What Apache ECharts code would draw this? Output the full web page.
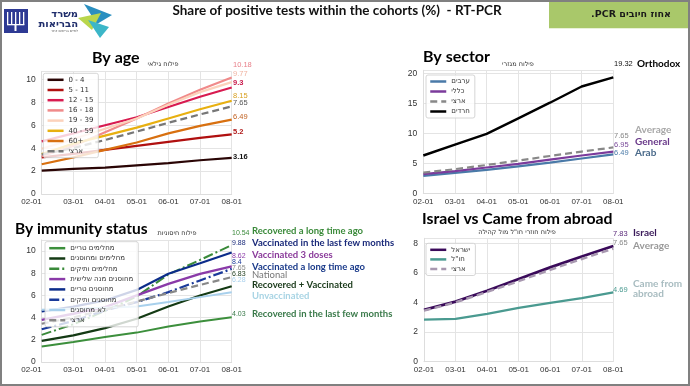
<!DOCTYPE html>
<html><head><meta charset="utf-8">
<script src="https://cdn.jsdelivr.net/npm/echarts@6/dist/echarts.min.js"></script>
<style>html,body{margin:0;padding:0;background:#fff}#c{width:690px;height:386px}</style>
</head><body><div id="c"></div>
<script>
// ---------- data ----------
const months = ['02-01','03-01','04-01','05-01','06-01','07-01','08-01'];
const national = [3.45,4.02,4.72,5.45,6.22,6.95,7.65];

const ageNames = ['0 - 4','5 - 11','12 - 15','16 - 18','19 - 39','40 - 59','60+','ארצי'];
const age_0_4   = [2.05,2.2,2.3,2.5,2.7,2.95,3.16];
const age_5_11  = [3.2,3.5,3.85,4.2,4.55,4.9,5.2];
const age_12_15 = [4.6,5.3,6.0,6.7,7.6,8.5,9.3];
const age_16_18 = [3.3,4.2,5.4,6.6,7.9,9.1,10.18];
const age_19_39 = [3.95,4.8,5.7,6.6,7.8,8.9,9.77];
const age_40_59 = [3.5,4.4,5.1,5.8,6.6,7.4,8.15];
const age_60p   = [2.6,3.2,3.85,4.5,5.3,5.95,6.49];

const sectorNames = ['ערבים','כללי','ארצי','חרדים'];
const sectorArab     = [2.9,3.4,3.9,4.5,5.1,5.8,6.49];
const sectorGeneral  = [3.2,3.7,4.3,4.9,5.6,6.3,6.95];
const sectorOrthodox = [6.3,8.1,9.9,12.5,15.1,17.8,19.32];
const sectorTags = ['Orthodox','Average','General','Arab'];

const immNames = ['מחלימים טריים','מחלימים ומחוסנים','מחלימים ותיקים','מחוסנים מנה שלישית','מחוסנים טריים','מחוסנים ותיקים','לא מחוסנים','ארצי'];
const immRecRecent = [1.4,1.8,2.25,2.65,3.2,3.65,4.03];
const immRecVacc   = [1.9,2.4,3.05,3.9,5.0,6.0,6.83];
const immRecLong   = [2.45,3.4,4.6,5.9,7.9,9.2,10.54];
const immVac3      = [3.8,4.35,4.95,6.0,7.05,7.95,8.62];
const immVacRecent = [4.55,5.0,5.55,6.5,7.95,8.9,9.88];
const immVacLong   = [2.95,3.7,4.65,5.4,6.3,7.35,8.4];
const immUnvacc    = [4.7,4.8,4.9,5.0,5.4,5.85,6.28];
const immTags = ['Recovered a long time ago','Vaccinated in the last few months','Vaccinated 3 doses','Vaccinated a long time ago','National','Recovered + Vaccinated','Unvaccinated','Recovered in the last few months'];

const abrNames = ['ישראל','חו"ל','ארצי'];
const abrIsrael = [3.5,4.07,4.8,5.6,6.38,7.12,7.83];
const abrAbroad = [2.85,2.9,3.24,3.64,3.98,4.3,4.69];
const abrTags = ['Israel','Average','Came from','abroad'];

const titleText = 'Share of positive tests within the cohorts (%)  - RT-PCR';
const headings = ['By age','By sector','By immunity status','Israel vs Came from abroad'];
const subtitles = ['פילוח גילאי','פילוח מגזרי','פילוח חיסוניות','פילוח חוזרי חו"ל מול קהילה'];
const boxText = '.PCR אחוז חיובים';

// ---------- build ----------
const last = a => a[a.length-1];
const DASH = [7,4], DASHDOT = [10,3,2,3];
const grids = [
  {left:41.7, top:71.5, width:190, height:122.5},
  {left:423.3, top:70.3, width:190, height:123},
  {left:41.7, top:240, width:190, height:122},
  {left:424, top:238.3, width:189.3, height:123.4}
];
const yCfg = [{max:10.7,interval:2},{max:20.5,interval:5},{max:11,interval:2},{max:8.35,interval:2}];
const gridLine = '#e4e4e4';
const xAxes = grids.map((g,i)=>({
  type:'category', gridIndex:i, data:months, boundaryGap:false,
  axisTick:{show:false}, axisLine:{lineStyle:{color:'#ddd'}},
  splitLine:{show:true,lineStyle:{color:gridLine,width:1}},
  axisLabel:{fontSize:8,color:'#333',margin:4,fontFamily:'Liberation Sans',
    alignMinLabel: (i===0||i===2)?'right':'center'}
}));
const yAxes = grids.map((g,i)=>({
  type:'value', gridIndex:i, min:0, max:yCfg[i].max, interval:yCfg[i].interval,
  axisTick:{show:false}, axisLine:{show:true,lineStyle:{color:'#ddd'}},
  splitLine:{lineStyle:{color:gridLine,width:1}},
  axisLabel:{fontSize:8.5,color:'#333',margin:6,showMaxLabel:false,fontFamily:'Liberation Sans'}
}));

const series = [];
function add(name, data, color, gi, width, type, z){
  series.push({type:'line', name:name, data:data, xAxisIndex:gi, yAxisIndex:gi,
    symbol:'none', smooth:false, z:z||2,
    lineStyle:{color:color, width:width||2, type:type||'solid'}, itemStyle:{color:color}});
}
// chart 1 — age
add(ageNames[0], age_0_4, '#2a0505', 0, 2.2);
add(ageNames[1], age_5_11, '#b01010', 0, 2.2);
add(ageNames[2], age_12_15, '#d81b50', 0, 2.2);
add(ageNames[3], age_16_18, '#f08a8a', 0, 2.2);
add(ageNames[4], age_19_39, '#fcd2bc', 0, 2.2);
add(ageNames[5], age_40_59, '#e8b010', 0, 2.2);
add(ageNames[6], age_60p, '#d87010', 0, 2.2);
add(ageNames[7]+'#1', national, '#777', 0, 2.2, DASH);
// chart 2 — sector
add(sectorNames[0]+'#2', sectorArab, '#4a7aa8', 1, 2.2);
add(sectorNames[1]+'#2', sectorGeneral, '#7b3b9b', 1, 2.2);
add(sectorNames[2]+'#2', national, '#888', 1, 2.2, DASH);
add(sectorNames[3]+'#2', sectorOrthodox, '#000', 1, 2.4);
// chart 3 — immunity
add(immNames[0]+'#3', immRecRecent, '#3c8f3c', 2, 2);
add(immNames[1]+'#3', immRecVacc, '#143a14', 2, 2.2);
add(immNames[2]+'#3', immRecLong, '#3a8a3a', 2, 2, DASHDOT);
add(immNames[3]+'#3', immVac3, '#8a3aa8', 2, 2.4);
add(immNames[4]+'#3', immVacRecent, '#0c2c8a', 2, 2.2);
add(immNames[5]+'#3', immVacLong, '#1a3a9a', 2, 2.2, DASHDOT);
add(immNames[6]+'#3', immUnvacc, '#a8d0ec', 2, 2);
add(immNames[7]+'#3', national, '#888', 2, 2.2, DASH);
// chart 4 — Israel vs abroad
add(abrNames[0]+'#4', abrIsrael, '#3a0a5a', 3, 2.8);
add(abrNames[1]+'#4', abrAbroad, '#4a9a90', 3, 2.2);
add(abrNames[2]+'#4', national, '#a898b0', 3, 2.4, DASH, 3);

const legendBase = {orient:'vertical', itemWidth:16, itemHeight:7, itemGap:3.2,
  textStyle:{fontSize:7,color:'#333',fontFamily:'DejaVu Sans'}, padding:[3,5,3,3],
  backgroundColor:'rgba(255,255,255,0.8)', borderColor:'#ccc', borderWidth:0.8, borderRadius:2,
  itemStyle:{opacity:0}, lineStyle:{width:2.5},
  formatter:n=>n.split('#')[0], selectedMode:false};
const legends = [
  Object.assign({}, legendBase, {left:43.3, top:73.3, data:ageNames.map((n,i)=>i===7?n+'#1':n)}),
  Object.assign({}, legendBase, {left:426, top:75, itemGap:3, data:sectorNames.map(n=>n+'#2')}),
  Object.assign({}, legendBase, {left:45, top:241.7, itemGap:3.3, data:immNames.map(n=>n+'#3')}),
  Object.assign({}, legendBase, {left:426, top:243.3, itemGap:2.6, data:abrNames.map(n=>n+'#4')})
];

// ---------- annotation layout ----------
const g = [];
const T = (x,y,text,color,size,weight,align,family)=>g.push({type:'text',x:x,y:y,z:100,style:{
  text:text, fill:color, fontSize:size, fontWeight:weight||'normal', align:align||'left',
  verticalAlign:'middle', fontFamily:family||'Liberation Sans'}});
g.push({type:'rect',shape:{x:1,y:1,width:688,height:384},style:{fill:'none',stroke:'#808080',lineWidth:2},z:200});
// logo
g.push({type:'rect',shape:{x:4,y:9,width:24,height:24},style:{fill:'#2e3a94'},z:50});
[7,11,15,19,23].forEach(x=>g.push({type:'rect',shape:{x:x,y:12,width:1.3,height:13},style:{fill:'#fff'},z:51}));
g.push({type:'rect',shape:{x:7,y:24,width:17.3,height:1.3},style:{fill:'#fff'},z:51});
g.push({type:'rect',shape:{x:14.5,y:25,width:2,height:6},style:{fill:'#fff'},z:51});
T(78,14,'משרד','#1f2d6b',10,'bold','right','DejaVu Sans');
T(78,24,'הבריאות','#1f2d6b',10,'bold','right','DejaVu Sans');
T(78,31.5,'לחיים בריאים יותר','#555',3.5,'normal','right','DejaVu Sans');
g.push({type:'polygon',shape:{points:[[84,4],[112,15],[97,24]]},style:{fill:'#2a8fc0'},z:50});
g.push({type:'polygon',shape:{points:[[78,18],[101,13],[92,30]]},style:{fill:'#b9d64c'},z:51});
g.push({type:'polygon',shape:{points:[[88,20],[109,27],[100,38]]},style:{fill:'#3cb6c8'},z:52});
// title + green box
T(337,11,titleText,'#111',13.5,'bold','center','Lato');
g.push({type:'rect',shape:{x:549,y:0,width:141,height:28.3},style:{fill:'#a9c86a'},z:50});
T(631,15,boxText,'#1a1a1a',9.5,'bold','center','DejaVu Sans');
// headings
T(92,58,headings[0],'#000',16,'bold','left','Lato');
T(423,57,headings[1],'#000',16,'bold','left','Lato');
T(15,229,headings[2],'#000',15.5,'bold','left','Lato');
T(422,219,headings[3],'#000',15.8,'bold','left','Lato');
T(163,64.5,subtitles[0],'#333',6.5,'normal','center','DejaVu Sans');
T(518,64.5,subtitles[1],'#333',6.5,'normal','center','DejaVu Sans');
T(177,233,subtitles[2],'#333',6.5,'normal','center','DejaVu Sans');
T(517,232.5,subtitles[3],'#333',6.5,'normal','center','DejaVu Sans');
// chart 1 end labels
const ageEnd = [[age_16_18,65,'#e8808a','normal'],[age_19_39,74,'#f0b4a2','normal'],[age_12_15,82.5,'#c8184a','bold'],
  [age_40_59,95.5,'#d8a020','normal'],[national,102.5,'#555','normal'],[age_60p,116.5,'#c06020','normal'],
  [age_5_11,132,'#b01818','bold'],[age_0_4,157,'#111','bold']];
ageEnd.forEach(a=>T(233,a[1],String(last(a[0])),a[2],7.5,a[3]));
// chart 2 end labels
T(614,64,String(last(sectorOrthodox)),'#111',7.5);
T(637,64,sectorTags[0],'#000',10,'bold','left','Lato');
T(614,136,String(last(national)),'#888',7.5);
T(614,144.5,String(last(sectorGeneral)),'#7a4a9a',7.5);
T(614,152.5,String(last(sectorArab)),'#4a7aa8',7.5);
T(635,129.5,sectorTags[1],'#a8a8a8',10,'bold','left','Lato');
T(635,141.5,sectorTags[2],'#6a3a8a',10,'bold','left','Lato');
T(635,153,sectorTags[3],'#4a6a8a',10,'bold','left','Lato');
// chart 3 end labels
const immEnd = [[immRecLong,232.7,'#3a8a3a','#3a8a3a'],[immVacRecent,242.7,'#1a2a7a','#1a2a7a'],[immVac3,255.7,'#8a3aa8','#8a3a9a'],
  [immVacLong,262.3,'#1a3a9a','#1a3a8a'],[national,268.3,'#888','#777'],[immRecVacc,274.3,'#1a3a1a','#1a3a1a'],
  [immUnvacc,280,'#a8d0ec','#a8d4e4'],[immRecRecent,314,'#3a7a4a','#3a7a4a']];
const immTagY = [231.3,242.7,255,266.7,274.7,285,295.7,314];
immEnd.forEach((a,i)=>{
  T(232,a[1],String(last(a[0])),a[2],7);
  T(252,immTagY[i],immTags[i],a[3],9.5,i===4?'normal':'bold','left','Lato');
});
// chart 4 end labels
T(613,234,String(last(abrIsrael)),'#5a2a7a',7.5);
T(633,233,abrTags[0],'#3a1a5a',10,'bold','left','Lato');
T(613,242.5,String(last(national)),'#888',7.5);
T(633,246,abrTags[1],'#999',10,'bold','left','Lato');
T(613,290,String(last(abrAbroad)),'#4a9a90',7.5);
T(633,284,abrTags[2],'#a8bcc0',10,'bold','left','Lato');
T(633,294,abrTags[3],'#a8bcc0',10,'bold','left','Lato');

const chart = echarts.init(document.getElementById('c'), null, {renderer:'canvas'});
chart.setOption({animation:false, backgroundColor:'#fff', grid:grids, xAxis:xAxes, yAxis:yAxes,
  legend:legends, series:series, graphic:g});
</script></body></html>
